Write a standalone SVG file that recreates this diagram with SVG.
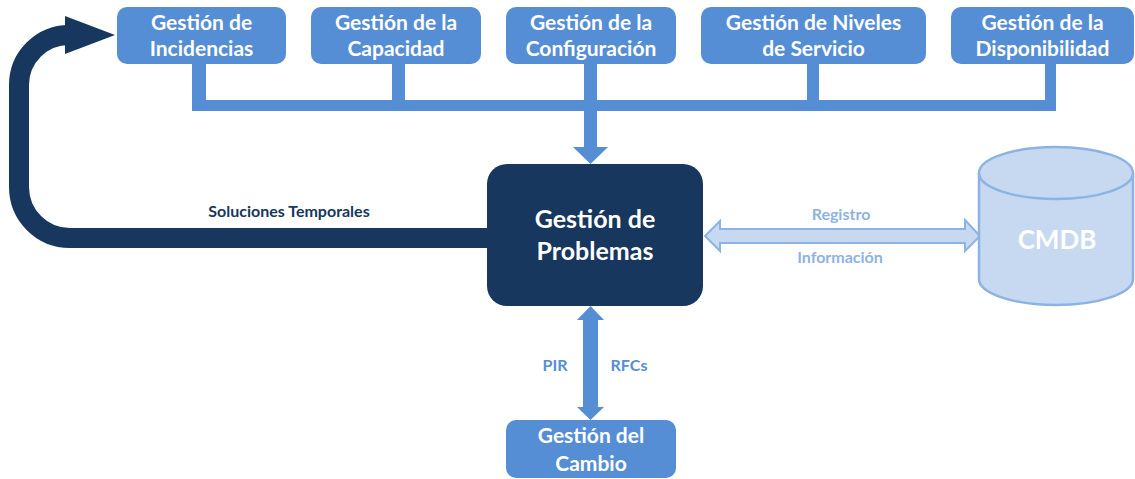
<svg xmlns="http://www.w3.org/2000/svg" width="1135" height="479" viewBox="0 0 1135 479">
<style>
.box{fill:#558ed5}
.t{font-family:"Lato","Liberation Sans",sans-serif;font-weight:bold;text-anchor:middle}
.tw{fill:#ffffff;font-size:21px}
.lbl{font-size:16px}
</style>
<rect width="1135" height="479" fill="#ffffff"/>
<g id="connectors">
  <g fill="#558ed5">
    <rect x="192" y="63" width="14" height="48"/>
    <rect x="392" y="63" width="13" height="48"/>
    <rect x="584" y="63" width="13" height="84"/>
    <rect x="807" y="63" width="12" height="48"/>
    <rect x="1045" y="63" width="11" height="48"/>
    <rect x="192" y="100" width="864" height="11"/>
    <polygon points="573,147 608,147 590.5,164"/>
  </g>
  <path d="M 488 238 H 70 A 51 51 0 0 1 19 187 V 85 A 50 50 0 0 1 69 35" fill="none" stroke="#17375e" stroke-width="20"/>
  <polygon points="65,16 115,35 65,54" fill="#17375e"/>
  <text class="t lbl" x="289" y="217" fill="#17375e">Soluciones Temporales</text>
  <polygon points="705,236 720,221 720,229 965,229 965,220 980,236 965,251 965,243 720,243 720,251" fill="#c6d9f1" stroke="#8db3e2" stroke-width="2" stroke-linejoin="miter"/>
  <text class="t lbl" x="841" y="220" fill="#8db3e2">Registro</text>
  <text class="t lbl" x="840" y="263" fill="#8db3e2">Información</text>
  <polygon points="590.5,306 604,320 598,320 598,407 604,407 590.5,420 577,407 583,407 583,320 577,320" fill="#558ed5"/>
  <text class="t lbl" x="555" y="371" fill="#558ed5">PIR</text>
  <text class="t lbl" x="629" y="371" fill="#558ed5">RFCs</text>
</g>
<g id="n-incidencias">
  <rect class="box" x="117" y="7" width="169" height="57" rx="10"/>
  <text class="t tw" x="201.5" y="30">Gestión de</text>
  <text class="t tw" x="201.5" y="56">Incidencias</text>
</g>
<g id="n-capacidad">
  <rect class="box" x="311" y="7" width="170" height="57" rx="10"/>
  <text class="t tw" x="396" y="30">Gestión de la</text>
  <text class="t tw" x="396" y="56">Capacidad</text>
</g>
<g id="n-configuracion">
  <rect class="box" x="506" y="7" width="170" height="57" rx="10"/>
  <text class="t tw" x="591" y="30">Gestión de la</text>
  <text class="t tw" x="591" y="56">Configuración</text>
</g>
<g id="n-niveles">
  <rect class="box" x="701" y="7" width="225" height="57" rx="10"/>
  <text class="t tw" x="813.5" y="30">Gestión de Niveles</text>
  <text class="t tw" x="813.5" y="56">de Servicio</text>
</g>
<g id="n-disponibilidad">
  <rect class="box" x="951" y="7" width="183" height="57" rx="10"/>
  <text class="t tw" x="1042.5" y="30">Gestión de la</text>
  <text class="t tw" x="1042.5" y="56">Disponibilidad</text>
</g>
<g id="n-problemas">
  <rect x="487" y="164" width="216" height="142" rx="20" fill="#17375e"/>
  <text class="t" x="595" y="228" fill="#ffffff" font-size="25">Gestión de</text>
  <text class="t" x="595" y="260" fill="#ffffff" font-size="25">Problemas</text>
</g>
<g id="n-cmdb">
  <path d="M 979 173 V 279 A 77 26 0 0 0 1133 279 V 173" fill="#c6d9f1" stroke="#8db3e2" stroke-width="2.5"/>
  <ellipse cx="1056" cy="173" rx="77" ry="26" fill="#c6d9f1" stroke="#8db3e2" stroke-width="2.5"/>
  <text class="t" x="1057" y="249" fill="#ffffff" font-size="26">CMDB</text>
</g>
<g id="n-cambio">
  <rect class="box" x="506" y="420" width="170" height="58" rx="10"/>
  <text class="t tw" x="591" y="443">Gestión del</text>
  <text class="t tw" x="591" y="471">Cambio</text>
</g>
</svg>
